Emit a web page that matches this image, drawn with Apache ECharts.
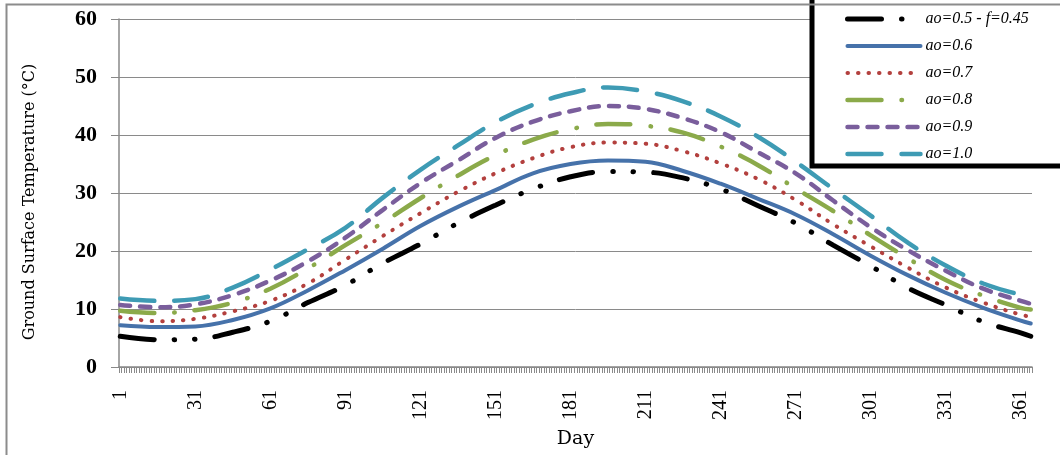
<!DOCTYPE html>
<html>
<head>
<meta charset="utf-8">
<script src="https://cdn.jsdelivr.net/npm/echarts@6/dist/echarts.min.js"></script>
<style>
html,body{margin:0;padding:0;background:#fff;}
#chart{width:1060px;height:455px;}
</style>
</head>
<body>
<div id="chart"></div>
<script>
// ---- data ----
var sampleDays = [1,16,31,46,61,76,91,106,121,136,151,166,181,196,211,226,241,256,271,286,301,316,331,346,361,365];
var ao05 = [5.3,4.7,4.8,6.0,7.9,11.1,14.1,17.9,21.2,24.8,27.9,30.7,32.8,33.7,33.6,32.6,30.7,27.8,24.8,21.0,17.4,13.6,10.7,7.8,5.9,5.3];
var ao06 = [7.2,6.9,7.0,8.1,10.1,13.2,16.7,20.4,24.3,27.6,30.5,33.4,35.0,35.6,35.4,33.8,31.6,29.0,26.3,22.9,19.2,15.8,12.8,10.2,8.0,7.5];
var ao07 = [8.6,7.9,8.3,9.6,11.4,14.4,18.5,22.6,26.5,30.2,33.4,36.0,37.9,38.7,38.5,37.2,35.1,32.4,28.8,24.6,20.8,17.1,13.7,11.1,9.0,8.7];
var ao08 = [9.7,9.3,9.8,11.1,13.5,17.0,21.0,24.9,29.1,33.0,36.5,39.2,41.0,41.9,41.6,40.4,38.0,34.8,30.8,26.9,22.7,18.7,15.0,12.3,10.2,9.9];
var ao09 = [10.7,10.3,10.8,12.4,14.9,18.2,22.3,27.1,31.7,35.6,39.5,42.3,44.1,45.0,44.5,42.9,40.5,37.0,33.4,28.7,24.1,20.1,16.6,13.5,11.4,10.9];
var ao10 = [11.8,11.4,11.7,13.7,16.8,20.3,24.0,29.2,34.0,38.2,42.2,45.2,47.2,48.2,47.5,45.8,43.2,39.7,35.4,30.7,26.1,21.4,17.5,14.4,12.4,11.8];
var seriesNames = ['ao=0.5 - f=0.45','ao=0.6','ao=0.7','ao=0.8','ao=0.9','ao=1.0'];
var seriesValues = [ao05, ao06, ao07, ao08, ao09, ao10];
var dayCount = 365;
var yTicks = [0,10,20,30,40,50,60];

// categories 1..365
var categories = [];
for (var d = 1; d <= dayCount; d++) categories.push(String(d));

function pairs(vals){
  return sampleDays.map(function(day, i){ return [String(day), vals[i]]; });
}

var styles = [
  {color:'#000000', width:5, type:[34,20,0.5,20,0.5,20], cap:'round'},
  {color:'#4672AA', width:4, type:'solid', cap:'round'},
  {color:'#B3403E', width:4, type:[0.5,10], cap:'round'},
  {color:'#8BAA4A', width:4.5, type:[34,20,0.5,20], cap:'round'},
  {color:'#7A5E9C', width:4.5, type:[10,10], cap:'round'},
  {color:'#3E9BB4', width:4.5, type:[34,20], cap:'round'}
];

var series = seriesNames.map(function(name, i){
  var s = styles[i];
  return {
    name: name,
    type: 'line',
    data: pairs(seriesValues[i]),
    smooth: 0.4,
    symbol: 'none',
    showSymbol: false,
    color: s.color,
    lineStyle: {color: s.color, width: s.width, type: s.type, cap: s.cap},
    animation: false
  };
});

var legendData = seriesNames.map(function(name, i){
  var s = styles[i];
  return {
    name: name,
    itemStyle: {opacity: 0},
    lineStyle: {color: s.color, width: s.width, type: s.type, cap: s.cap}
  };
});

var serif = '"Liberation Serif", "Times New Roman", serif';
var chart = echarts.init(document.getElementById('chart'), null, {renderer:'canvas'});
chart.setOption({
  animation: false,
  backgroundColor: '#ffffff',
  grid: {left: 119, right: 28, top: 19, bottom: 88, containLabel: false},
  xAxis: {
    type: 'category',
    data: categories,
    boundaryGap: true,
    name: 'Day',
    nameLocation: 'middle',
    nameGap: 63,
    nameTextStyle: {fontFamily: '"DejaVu Serif", serif', fontSize: 19, color: '#000'},
    axisLine: {lineStyle: {color: '#888888', width: 1.5}},
    axisTick: {show: true, interval: 0, length: 6, lineStyle: {color: '#8a8a8a', width: 1}},
    axisLabel: {interval: 29, rotate: 90, margin: 23, fontFamily: serif, fontSize: 20, color: '#000'},
    splitLine: {show: false}
  },
  yAxis: {
    type: 'value',
    min: yTicks[0], max: yTicks[yTicks.length-1], interval: 10,
    name: 'Ground Surface Temperature (°C)',
    nameLocation: 'middle',
    nameGap: 81,
    nameRotate: 90,
    nameTextStyle: {fontFamily: '"DejaVu Serif", serif', fontSize: 16, color: '#000', padding: [0, 18, 0, 0]},
    axisLine: {show: true, lineStyle: {color: '#888888', width: 1.5}},
    axisTick: {show: true, length: 8, lineStyle: {color: '#888888'}},
    axisLabel: {margin: 22, fontFamily: serif, fontSize: 22, fontWeight: 'bold', color: '#000'},
    splitLine: {show: true, lineStyle: {color: '#8a8a8a', width: 1}}
  },
  legend: {
    orient: 'vertical',
    left: 845, top: 10,
    padding: 0,
    itemWidth: 73, itemHeight: 14, itemGap: 9,
    data: legendData,
    itemStyle: {opacity: 0},
    lineStyle: {width: 'inherit'},
    textStyle: {fontFamily: serif, fontStyle: 'italic', fontSize: 16, color: '#000', lineHeight: 18},
    z: 6
  },
  graphic: [
    {type:'rect', z: 5, silent: true,
     shape:{x:812, y:-10, width:270, height:176},
     style:{fill:'#ffffff', stroke:'#000000', lineWidth:5}},
    {type:'rect', z: 10, silent: true,
     shape:{x:6.5, y:4.5, width:1080, height:470},
     style:{fill:null, stroke:'#8c8c8c', lineWidth:2}}
  ],
  series: series
});
</script>
</body>
</html>
